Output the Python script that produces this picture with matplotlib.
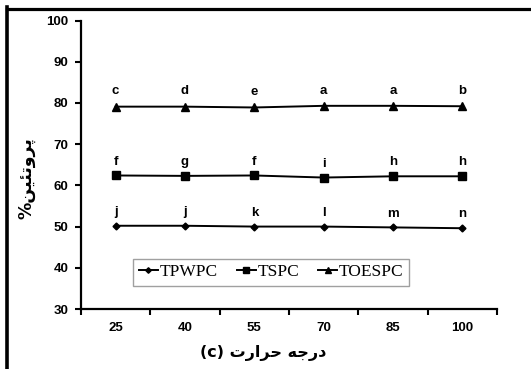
import matplotlib
matplotlib.use('Agg')
import matplotlib.pyplot as plt
from matplotlib.lines import Line2D

# داده ها
temps = ['25', '40', '55', '70', '85', '100']
tpwpc = [50.2, 50.2, 50.0, 50.0, 49.8, 49.6]
tspc = [62.4, 62.3, 62.4, 61.9, 62.2, 62.2]
toespc = [79.1, 79.1, 78.9, 79.3, 79.3, 79.2]
lbl_tpwpc = ['j', 'j', 'k', 'l', 'm', 'n']
lbl_tspc = ['f', 'g', 'f', 'i', 'h', 'h']
lbl_toespc = ['c', 'd', 'e', 'a', 'a', 'b']

# متن فارسی به صورت شکل های نمایشی (ترتیب دیداری)
ylabel_fa = '%' + '\ufee6\ufef4\ufe8c\ufe97\ufeed\ufeae\ufb58'
xlabel_fa = '(c) ' + '\ufe95\ufead\ufe8d\ufeae\ufea3' + ' ' + '\ufeea\ufe9f\ufead\ufea9'

plt.rcParams['font.family'] = ['Liberation Sans', 'DejaVu Sans']

fig = plt.figure(figsize=(5.31, 3.69), dpi=100)
ax = fig.add_axes([0.1525, 0.1626, 0.7835, 0.7818])

x = list(range(len(temps)))
ax.plot(x, tpwpc, color='black', lw=1.4, marker='D', ms=3.5, label='TPWPC')
ax.plot(x, tspc, color='black', lw=1.4, marker='s', ms=5.5, label='TSPC')
ax.plot(x, toespc, color='black', lw=1.4, marker='^', ms=5.5, label='TOESPC')

for vals, lbls, off in [(tpwpc, lbl_tpwpc, 10), (tspc, lbl_tspc, 10), (toespc, lbl_toespc, 11)]:
    for i, (v, t) in enumerate(zip(vals, lbls)):
        ax.annotate(t, (i, v), xytext=(0, off), textcoords='offset points',
                    ha='center', va='center', fontsize=9.5, fontweight='bold')

ax.set_xlim(-0.5, 5.5)
ax.set_ylim(30, 100)
ax.set_yticks(range(30, 101, 10))
ax.set_xticks([i + 0.5 for i in range(-1, 6)])
ax.set_xticklabels([])
ax.set_xticks(x, minor=True)
ax.set_xticklabels(temps, minor=True)
ax.tick_params(axis='x', which='major', direction='out', length=4, width=1.5)
ax.tick_params(axis='x', which='minor', length=0, pad=9, labelsize=9.5)
ax.tick_params(axis='y', direction='out', length=4, width=1.5, labelsize=9.5, pad=5)
for t in ax.get_xticklabels(minor=True) + ax.get_yticklabels():
    t.set_fontweight('bold')

for s in ['top', 'right']:
    ax.spines[s].set_visible(False)
for s in ['left', 'bottom']:
    ax.spines[s].set_linewidth(1.6)

leg = ax.legend(loc='center', bbox_to_anchor=(0.457, 0.127), ncol=3, frameon=True,
                fancybox=False, edgecolor='#888888', handlelength=1.1, handletextpad=0.1,
                columnspacing=1.1, borderpad=0.3, markerscale=0.8,
                prop={'family': 'Liberation Serif', 'size': 12.5})
leg.get_frame().set_linewidth(1.0)

fig.text(0.05, 0.517, ylabel_fa, rotation=90, ha='center', va='center',
         fontsize=12.5, fontweight='bold', family=['DejaVu Sans'])
fig.text(0.496, 0.043, xlabel_fa, ha='center', va='center',
         fontsize=11.5, fontweight='bold', family=['DejaVu Sans'])

# قاب دور تصویر
fig.add_artist(Line2D([7 / 531, 1], [1 - 8.5 / 369, 1 - 8.5 / 369], color='black', lw=2.3,
                      transform=fig.transFigure))
fig.add_artist(Line2D([7 / 531, 7 / 531], [0, 1 - 7 / 369], color='black', lw=2.6,
                      transform=fig.transFigure))

plt.savefig('out.png', dpi=100)
